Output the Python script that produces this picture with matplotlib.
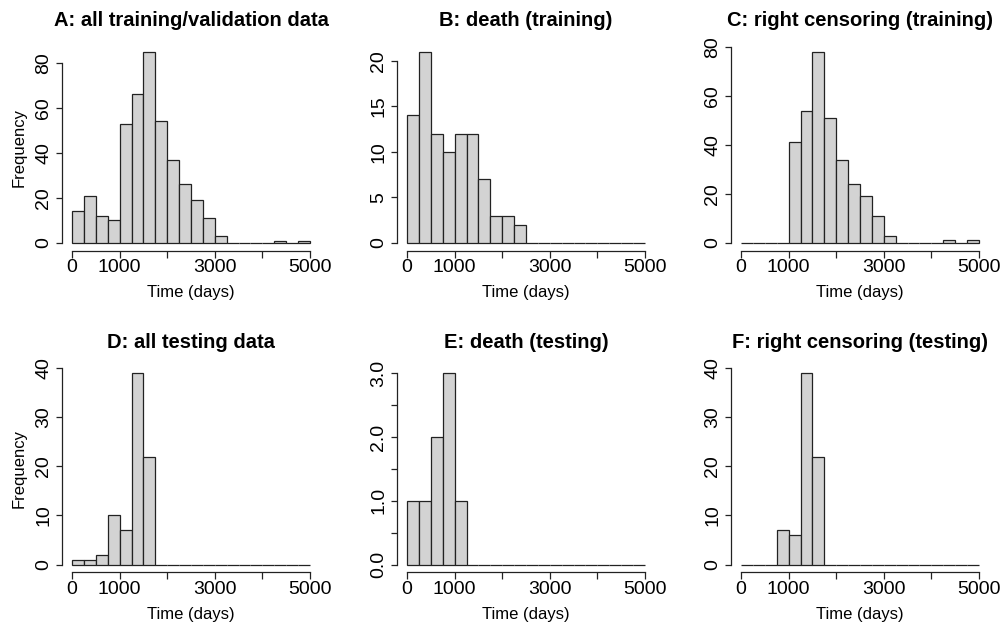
import numpy as np
import matplotlib
matplotlib.use("Agg")
import matplotlib.pyplot as plt

# ===== data: counts per 250-day bin, 0..5000 =====
bin_edges = list(range(0, 5001, 250))

counts_a = [14, 21, 12, 10, 53, 66, 85, 54, 37, 26, 19, 11, 3, 0, 0, 0, 0, 1, 0, 1]
counts_b = [14, 21, 12, 10, 12, 12, 7, 3, 3, 2, 0, 0, 0, 0, 0, 0, 0, 0, 0, 0]
counts_c = [0, 0, 0, 0, 41, 54, 78, 51, 34, 24, 19, 11, 3, 0, 0, 0, 0, 1, 0, 1]
counts_d = [1, 1, 2, 10, 7, 39, 22, 0, 0, 0, 0, 0, 0, 0, 0, 0, 0, 0, 0, 0]
counts_e = [1, 1, 2, 3, 1, 0, 0, 0, 0, 0, 0, 0, 0, 0, 0, 0, 0, 0, 0, 0]
counts_f = [0, 0, 0, 7, 6, 39, 22, 0, 0, 0, 0, 0, 0, 0, 0, 0, 0, 0, 0, 0]

titles = ["A: all training/validation data", "B: death (training)",
          "C: right censoring (training)", "D: all testing data",
          "E: death (testing)", "F: right censoring (testing)"]

x_ticks = [0, 1000, 2000, 3000, 4000, 5000]
x_tick_labels = ["0", "1000", "", "3000", "", "5000"]

y_ticks = [
    [0, 20, 40, 60, 80],
    [0, 5, 10, 15, 20],
    [0, 20, 40, 60, 80],
    [0, 10, 20, 30, 40],
    [0, 0.5, 1.0, 1.5, 2.0, 2.5, 3.0],
    [0, 10, 20, 30, 40],
]
y_tick_labels = [
    ["0", "20", "40", "60", "80"],
    ["0", "5", "10", "15", "20"],
    ["0", "20", "40", "60", "80"],
    ["0", "10", "20", "30", "40"],
    ["0.0", "", "1.0", "", "2.0", "", "3.0"],
    ["0", "10", "20", "30", "40"],
]

all_counts = [counts_a, counts_b, counts_c, counts_d, counts_e, counts_f]

plt.rcParams["font.family"] = ["Liberation Sans", "DejaVu Sans"]

W, H = 1003, 625
fig = plt.figure(figsize=(W / 100, H / 100), dpi=100)

lefts = [62.5, 397.5, 731.5]
tops = [44.0, 365.6]
pw, ph = 257.0, 206.6

for i in range(6):
    row, col = divmod(i, 3)
    ax = fig.add_axes([lefts[col] / W, (H - tops[row] - ph) / H, pw / W, ph / H])
    counts = all_counts[i]
    ax.bar(bin_edges[:-1], counts, width=250, align="edge",
           color="#d3d3d3", edgecolor="#222222", linewidth=0.9)

    ymax = max(counts)
    ax.set_xlim(-200, 5200)
    ax.set_ylim(-0.04 * ymax, 1.04 * ymax)

    for s in ["top", "right"]:
        ax.spines[s].set_visible(False)
    ax.spines["bottom"].set_bounds(0, 5000)
    ax.spines["left"].set_bounds(y_ticks[i][0], y_ticks[i][-1])
    for s in ["bottom", "left"]:
        ax.spines[s].set_linewidth(0.9)
        ax.spines[s].set_color("#222222")

    ax.set_xticks(x_ticks)
    ax.set_xticklabels(x_tick_labels, fontsize=14)
    ax.set_yticks(y_ticks[i])
    ax.set_yticklabels(y_tick_labels[i], fontsize=14, rotation=90, va="center")
    ax.tick_params(axis="x", length=5.2, width=0.9, pad=1.0, color="#222222")
    ax.tick_params(axis="y", length=4.5, width=0.9, pad=3, color="#222222")

    ax.set_xlabel("Time (days)", fontsize=12, labelpad=6.5)
    if col == 0:
        ax.set_ylabel("Frequency", fontsize=12, labelpad=6)
    ax.set_title(titles[i], fontsize=14.5, fontweight="bold", pad=13)

fig.savefig("out.png", dpi=100)
